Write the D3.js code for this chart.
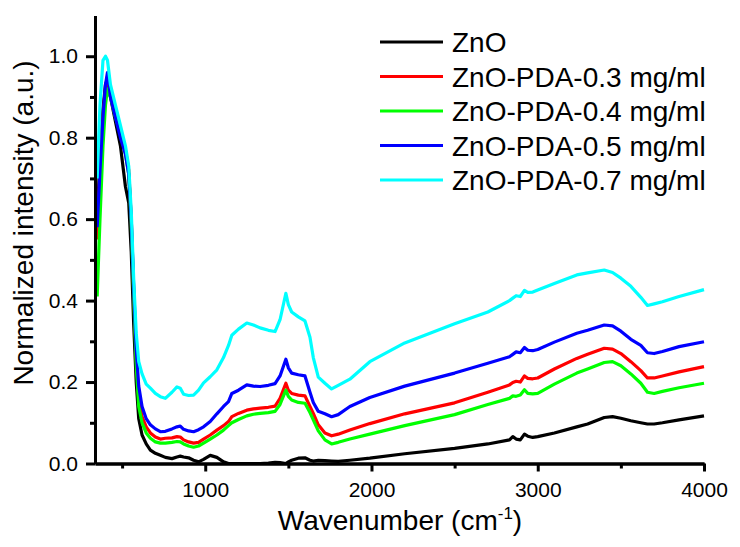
<!DOCTYPE html>
<html>
<head>
<meta charset="utf-8">
<script src="https://cdn.jsdelivr.net/npm/d3@7"></script>
<style>
  html, body { margin: 0; padding: 0; background: #fff; }
  svg { display: block; font-family: "Liberation Sans", Arial, sans-serif; }
</style>
</head>
<body>
<svg id="chart" width="740" height="547"></svg>
<script>
// ---- data ----
const wavenumber = [350,367,385,400,412,430,460,490,520,540,555,570,585,600,620,645,670,700,730,760,800,830,850,870,900,930,960,990,1030,1070,1110,1140,1160,1200,1250,1290,1330,1380,1420,1450,1485,1500,1520,1560,1600,1630,1650,1680,1720,1760,1800,1870,1990,2200,2500,2700,2830,2850,2870,2895,2920,2940,2970,3000,3100,3235,3300,3400,3450,3500,3560,3620,3660,3700,3750,3850,4000];

const zno = [0.60,0.75,0.87,0.93,0.945,0.90,0.84,0.78,0.68,0.64,0.52,0.34,0.20,0.11,0.07,0.048,0.033,0.025,0.02,0.015,0.012,0.016,0.018,0.016,0.014,0.008,0.004,0.01,0.02,0.015,0.004,0.0,0.0,0.0,0.0,0.0,0.0,0.001,0.003,0.002,0.0,0.004,0.008,0.013,0.014,0.008,0.006,0.008,0.007,0.006,0.005,0.008,0.013,0.024,0.037,0.048,0.058,0.066,0.06,0.058,0.072,0.067,0.064,0.066,0.075,0.09,0.097,0.113,0.115,0.111,0.105,0.1,0.097,0.097,0.1,0.107,0.117];

const pda03 = [0.55,0.72,0.85,0.92,0.95,0.91,0.86,0.82,0.77,0.72,0.60,0.42,0.26,0.16,0.115,0.09,0.075,0.065,0.06,0.062,0.063,0.066,0.065,0.058,0.053,0.05,0.052,0.06,0.07,0.082,0.093,0.103,0.115,0.123,0.131,0.134,0.136,0.138,0.141,0.16,0.197,0.18,0.172,0.168,0.166,0.14,0.123,0.095,0.075,0.068,0.072,0.082,0.098,0.122,0.149,0.175,0.193,0.199,0.202,0.2,0.215,0.209,0.208,0.21,0.232,0.258,0.268,0.283,0.281,0.27,0.25,0.228,0.21,0.21,0.215,0.225,0.238];

const pda04 = [0.41,0.60,0.78,0.88,0.92,0.90,0.85,0.81,0.76,0.71,0.59,0.41,0.24,0.14,0.10,0.075,0.062,0.053,0.05,0.05,0.052,0.054,0.053,0.048,0.043,0.04,0.043,0.05,0.06,0.07,0.082,0.093,0.10,0.108,0.117,0.121,0.123,0.125,0.128,0.145,0.18,0.165,0.156,0.15,0.148,0.125,0.107,0.08,0.058,0.048,0.052,0.06,0.072,0.093,0.12,0.145,0.16,0.166,0.165,0.168,0.181,0.172,0.171,0.172,0.195,0.222,0.232,0.248,0.25,0.24,0.22,0.197,0.175,0.172,0.177,0.186,0.197];

const pda05 = [0.58,0.72,0.85,0.93,0.96,0.90,0.85,0.80,0.76,0.71,0.60,0.43,0.28,0.19,0.14,0.11,0.095,0.085,0.078,0.079,0.085,0.09,0.092,0.084,0.08,0.078,0.083,0.09,0.103,0.122,0.14,0.152,0.172,0.18,0.193,0.19,0.189,0.192,0.196,0.215,0.256,0.235,0.222,0.218,0.215,0.175,0.15,0.128,0.122,0.115,0.12,0.14,0.162,0.19,0.222,0.246,0.262,0.268,0.274,0.272,0.285,0.278,0.277,0.28,0.298,0.32,0.327,0.34,0.338,0.325,0.305,0.29,0.272,0.27,0.275,0.287,0.299];

const pda07 = [0.70,0.88,0.99,1.00,0.99,0.93,0.88,0.83,0.78,0.73,0.62,0.45,0.32,0.25,0.22,0.195,0.185,0.172,0.164,0.16,0.175,0.188,0.185,0.17,0.167,0.168,0.18,0.198,0.213,0.23,0.26,0.29,0.315,0.33,0.345,0.34,0.333,0.327,0.324,0.353,0.418,0.39,0.372,0.36,0.35,0.31,0.26,0.212,0.197,0.183,0.192,0.207,0.25,0.296,0.343,0.372,0.40,0.406,0.412,0.41,0.425,0.42,0.421,0.426,0.442,0.463,0.468,0.475,0.469,0.455,0.435,0.408,0.388,0.392,0.397,0.41,0.427];

const seriesNames = ["ZnO","ZnO-PDA-0.3 mg/ml","ZnO-PDA-0.4 mg/ml","ZnO-PDA-0.5 mg/ml","ZnO-PDA-0.7 mg/ml"];
const seriesColors = ["#000000","#ff0000","#00ff00","#0000ff","#00ffff"];
const seriesValues = [zno, pda03, pda04, pda05, pda07];

const xMajorTicks = [1000,2000,3000,4000];
const xMinorTicks = [500,1500,2500,3500];
const yMajorTicks = [0,0.2,0.4,0.6,0.8,1.0];
const yMinorTicks = [0.1,0.3,0.5,0.7,0.9];

// ---- drawing ----
const svg = d3.select("#chart");
const x = d3.scaleLinear().domain([337, 4000]).range([95, 704]);
const y = d3.scaleLinear().domain([0, 1.1]).range([463.5, 15.5]);

svg.append("defs").append("clipPath").attr("id","plotclip")
  .append("rect").attr("x", 95).attr("y", 10).attr("width", 612).attr("height", 455);

const line = d3.line()
  .x((d, i) => x(wavenumber[i]))
  .y(d => y(d));

const plot = svg.append("g").attr("clip-path", "url(#plotclip)");
seriesValues.forEach((vals, k) => {
  plot.append("path")
    .datum(vals)
    .attr("d", line)
    .attr("fill", "none")
    .attr("stroke", seriesColors[k])
    .attr("stroke-width", 3.2)
    .attr("stroke-linejoin", "round");
});

// axes
function styleAxis(g) {
  g.select(".domain").attr("stroke", "#000").attr("stroke-width", 3);
  g.selectAll(".tick line").attr("stroke", "#000").attr("stroke-width", 3);
  g.selectAll(".tick text").attr("fill", "#000").style("font-size", "21px")
    .style("font-family", '"Liberation Sans", Arial, sans-serif');
}

const xAxisMinor = svg.append("g").attr("transform", `translate(0,${y(0)})`)
  .call(d3.axisBottom(x).tickValues(xMinorTicks).tickSize(5).tickSizeOuter(0).tickFormat(""));
styleAxis(xAxisMinor);
const xAxis = svg.append("g").attr("transform", `translate(0,${y(0)})`)
  .call(d3.axisBottom(x).tickValues(xMajorTicks).tickSize(8).tickSizeOuter(0).tickPadding(10.5).tickFormat(d3.format("d")));
styleAxis(xAxis);

const yAxisMinor = svg.append("g").attr("transform", `translate(${x(337)},0)`)
  .call(d3.axisLeft(y).tickValues(yMinorTicks).tickSize(5).tickSizeOuter(0).tickFormat(""));
styleAxis(yAxisMinor);
const yAxis = svg.append("g").attr("transform", `translate(${x(337)},0)`)
  .call(d3.axisLeft(y).tickValues(yMajorTicks).tickSize(9).tickSizeOuter(0).tickPadding(8).tickFormat(d3.format(".1f")));
styleAxis(yAxis);

// axis titles
const xt = svg.append("text")
  .attr("x", 400).attr("y", 530)
  .attr("text-anchor", "middle")
  .style("font-size", "28px").attr("fill", "#000");
xt.append("tspan").text("Wavenumber (cm");
xt.append("tspan").text("-1").style("font-size", "17px").attr("dy", -11);
xt.append("tspan").text(")").attr("dy", 11);

svg.append("text")
  .attr("transform", "translate(33,223) rotate(-90)")
  .attr("text-anchor", "middle")
  .style("font-size", "28px").attr("fill", "#000")
  .text("Normalized intensity (a.u.)");

// legend
const legendY0 = 42, legendStep = 34.5;
const legend = svg.append("g");
seriesNames.forEach((name, k) => {
  const ly = legendY0 + k * legendStep;
  legend.append("line")
    .attr("x1", 380).attr("x2", 443).attr("y1", ly).attr("y2", ly)
    .attr("stroke", seriesColors[k]).attr("stroke-width", 3);
  legend.append("text")
    .attr("x", 452).attr("y", ly + 10)
    .style("font-size", "28px").attr("fill", "#000")
    .text(name);
});
</script>
</body>
</html>
